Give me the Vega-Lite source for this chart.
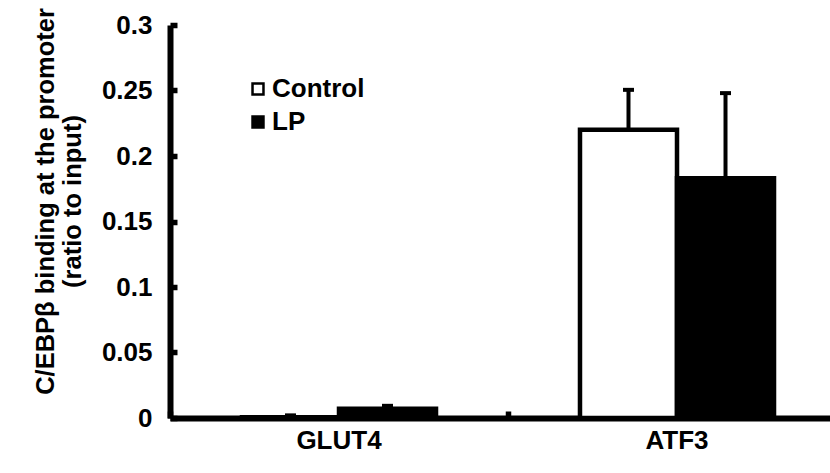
{
  "$schema": "https://vega.github.io/schema/vega-lite/v6.json",
  "autosize": {"type": "none"},
  "padding": {"left": 170, "top": 25, "right": 0, "bottom": 55},
  "width": 660,
  "height": 393,
  "background": "white",
  "data": {
    "values": [
      {"gene": "GLUT4", "group": "Control", "value": 0.0005, "hi": 0.002},
      {"gene": "GLUT4", "group": "LP", "value": 0.007, "hi": 0.0093},
      {"gene": "ATF3", "group": "Control", "value": 0.220, "hi": 0.2505},
      {"gene": "ATF3", "group": "LP", "value": 0.183, "hi": 0.248}
    ]
  },
  "config": {
    "view": {"stroke": null},
    "font": "Liberation Sans",
    "axis": {
      "domainColor": "black",
      "domainWidth": 6,
      "tickColor": "black",
      "tickWidth": 5.5,
      "tickSize": -7,
      "labelFont": "Liberation Sans",
      "labelFontWeight": "bold",
      "labelColor": "black",
      "titleFont": "Liberation Sans",
      "titleFontWeight": "bold",
      "titleColor": "black",
      "grid": false
    }
  },
  "encoding": {
    "x": {
      "field": "gene",
      "type": "nominal",
      "sort": ["GLUT4", "ATF3"],
      "scale": {"range": [0, 676], "paddingInner": 0, "paddingOuter": 0},
      "axis": {"title": null, "labelAngle": 0, "labelFontSize": 26, "labelPadding": 16, "bandPosition": 0, "domainWidth": 6, "tickWidth": 5.5}
    },
    "xOffset": {
      "field": "group",
      "type": "nominal",
      "sort": ["Control", "LP"],
      "scale": {"paddingInner": 0, "paddingOuter": 0.742}
    }
  },
  "layer": [
    {
      "mark": {"type": "bar", "stroke": "black", "strokeWidth": 4.5, "strokeJoin": "miter"},
      "encoding": {
        "y": {
          "field": "value",
          "type": "quantitative",
          "scale": {"domain": [0, 0.3], "nice": false},
          "axis": {
            "values": [0, 0.05, 0.1, 0.15, 0.2, 0.25, 0.3],
            "format": "~g",
            "labelFontSize": 26,
            "labelPadding": 25,
            "domainWidth": 6,
            "tickWidth": 5.5,
            "title": ["C/EBPβ binding at the promoter", "(ratio to input)"],
            "titleFontSize": 25.5,
            "titleLineHeight": 27,
            "titleX": -112,
            "titleY": 176
          }
        },
        "fill": {
          "field": "group",
          "type": "nominal",
          "sort": ["Control", "LP"],
          "scale": {"range": ["white", "black"]},
          "legend": {
            "title": null,
            "orient": "none",
            "legendX": 75,
            "legendY": 51,
            "padding": 0,
            "symbolType": "square",
            "symbolSize": 120,
            "symbolStrokeColor": "black",
            "symbolStrokeWidth": 2.5,
            "labelFontSize": 26,
            "labelFontWeight": "bold",
            "labelFont": "Liberation Sans",
            "labelColor": "black",
            "labelOffset": 1,
            "rowPadding": 7
          }
        }
      }
    },
    {
      "mark": {"type": "rule", "color": "black", "strokeWidth": 4},
      "encoding": {
        "y": {"field": "value", "type": "quantitative"},
        "y2": {"field": "hi"}
      }
    },
    {
      "mark": {"type": "tick", "color": "black", "size": 11, "thickness": 4, "opacity": 1},
      "encoding": {
        "y": {"field": "hi", "type": "quantitative"}
      }
    }
  ]
}
